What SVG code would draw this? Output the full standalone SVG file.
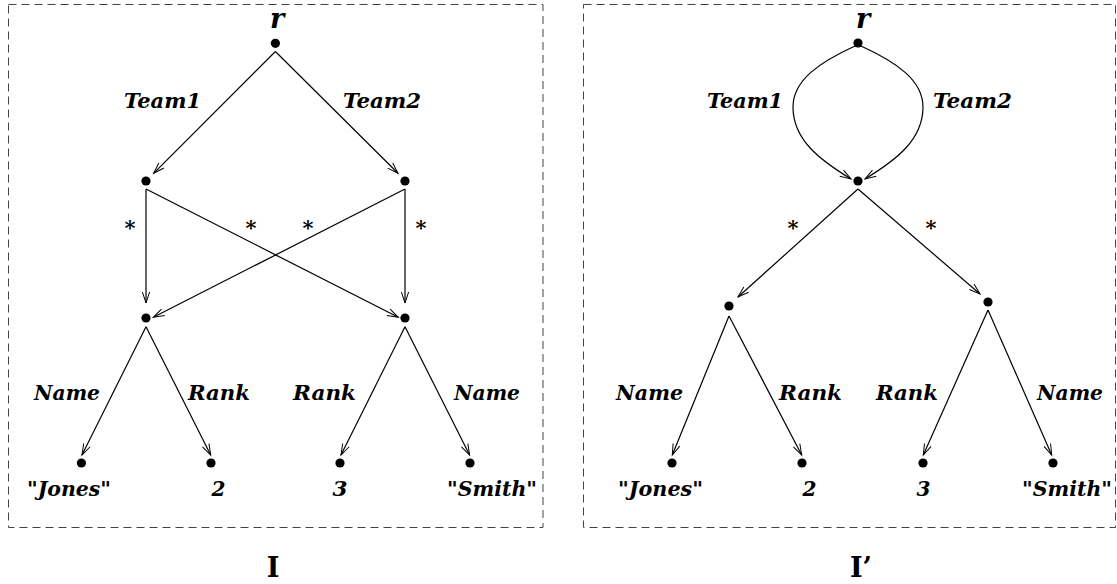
<svg xmlns="http://www.w3.org/2000/svg" width="1117" height="584" viewBox="0 0 1117 584">
  <style>
    .frame { fill: none; stroke: #444; stroke-width: 1; stroke-dasharray: 8 5; }
    .edge { fill: none; stroke: #000; stroke-width: 1.2; marker-end: url(#open); }
    .dot { fill: #000; }
    .lbl { font-family: "DejaVu Serif", "Liberation Serif", serif; font-weight: bold; font-style: italic; font-size: 21px; fill: #000; }
    .root { font-family: "DejaVu Serif", "Liberation Serif", serif; font-weight: bold; font-style: italic; font-size: 27px; fill: #000; }
    .star { font-family: "DejaVu Serif", "Liberation Serif", serif; font-weight: bold; font-size: 21px; fill: #000; text-anchor: middle; }
    .cap { font-family: "DejaVu Serif", "Liberation Serif", serif; font-weight: bold; font-size: 27px; fill: #000; text-anchor: middle; }
  </style>
  <defs>
    <marker id="open" markerUnits="userSpaceOnUse" markerWidth="14" markerHeight="10" refX="0" refY="0" viewBox="-12 -5 14 10" orient="auto" overflow="visible">
      <path d="M-11,-3.6 L0,0 L-11,3.6" fill="none" stroke="#000" stroke-width="1"/>
    </marker>
  </defs>

  <rect class="frame" x="8.5" y="4.5" width="534.5" height="523"/>
  <rect class="frame" x="583.5" y="4.5" width="532" height="523"/>

  <!-- left instance I -->
  <g id="edges-I">
    <path class="edge" d="M275.4,51.5 L153.6,173.3"/>
    <path class="edge" d="M275.4,51.5 L398,173.3"/>
    <path class="edge" d="M146,189 L146,303"/>
    <path class="edge" d="M146,189 L398.3,317.3"/>
    <path class="edge" d="M405,189 L153.3,317.3"/>
    <path class="edge" d="M405,189 L405,303"/>
    <path class="edge" d="M146,326.7 L82,455"/>
    <path class="edge" d="M146,326.7 L210.7,455"/>
    <path class="edge" d="M405,326.7 L341,455"/>
    <path class="edge" d="M405,326.7 L469.6,455"/>
    <text class="lbl" x="124" y="108" textLength="77" lengthAdjust="spacingAndGlyphs">Team1</text>
    <text class="lbl" x="343" y="108" textLength="78" lengthAdjust="spacingAndGlyphs">Team2</text>
    <text class="star" x="130" y="235">*</text>
    <text class="star" x="251" y="235">*</text>
    <text class="star" x="308" y="235">*</text>
    <text class="star" x="421" y="235">*</text>
    <text class="lbl" x="34" y="400" textLength="66" lengthAdjust="spacingAndGlyphs">Name</text>
    <text class="lbl" x="188" y="400" textLength="62" lengthAdjust="spacingAndGlyphs">Rank</text>
    <text class="lbl" x="293" y="400" textLength="63" lengthAdjust="spacingAndGlyphs">Rank</text>
    <text class="lbl" x="454" y="400" textLength="66" lengthAdjust="spacingAndGlyphs">Name</text>
  </g>
  <g id="I-root"><circle class="dot" cx="275.4" cy="43.3" r="4.6"/><text class="root" x="270" y="28">r</text></g>
  <g id="I-team1"><circle class="dot" cx="146" cy="181" r="4.6"/></g>
  <g id="I-team2"><circle class="dot" cx="405" cy="181" r="4.6"/></g>
  <g id="I-player1"><circle class="dot" cx="146" cy="318" r="4.6"/></g>
  <g id="I-player2"><circle class="dot" cx="405" cy="318" r="4.6"/></g>
  <g id="I-jones"><circle class="dot" cx="81.4" cy="463" r="4.6"/><text class="lbl" x="27" y="496" textLength="84" lengthAdjust="spacingAndGlyphs">"Jones"</text></g>
  <g id="I-rank2"><circle class="dot" cx="211" cy="463" r="4.6"/><text class="lbl" x="211.5" y="496" textLength="14" lengthAdjust="spacingAndGlyphs">2</text></g>
  <g id="I-rank3"><circle class="dot" cx="340" cy="463" r="4.6"/><text class="lbl" x="332.5" y="496" textLength="15" lengthAdjust="spacingAndGlyphs">3</text></g>
  <g id="I-smith"><circle class="dot" cx="470" cy="463" r="4.6"/><text class="lbl" x="447" y="496" textLength="90" lengthAdjust="spacingAndGlyphs">"Smith"</text></g>
  <text class="cap" x="273" y="577">I</text>

  <!-- right instance I' -->
  <g id="edges-I-prime">
    <path class="edge" d="M855,46 C820,62 793,80 793,107 C793,140 820,160 851,179"/>
    <path class="edge" d="M861,46 C896,62 923,80 923,107 C923,140 896,160 865,179"/>
    <path class="edge" d="M858,189 L738,297"/>
    <path class="edge" d="M858,189 L980,294"/>
    <path class="edge" d="M729,316 L672.3,455"/>
    <path class="edge" d="M729,316 L801.7,455"/>
    <path class="edge" d="M988,310 L923.3,455"/>
    <path class="edge" d="M988,310 L1051.7,455"/>
    <text class="lbl" x="707" y="108" textLength="76" lengthAdjust="spacingAndGlyphs">Team1</text>
    <text class="lbl" x="933" y="108" textLength="79" lengthAdjust="spacingAndGlyphs">Team2</text>
    <text class="star" x="793" y="235">*</text>
    <text class="star" x="931" y="235">*</text>
    <text class="lbl" x="616" y="400" textLength="67" lengthAdjust="spacingAndGlyphs">Name</text>
    <text class="lbl" x="779" y="400" textLength="63" lengthAdjust="spacingAndGlyphs">Rank</text>
    <text class="lbl" x="876" y="400" textLength="62" lengthAdjust="spacingAndGlyphs">Rank</text>
    <text class="lbl" x="1037" y="400" textLength="66" lengthAdjust="spacingAndGlyphs">Name</text>
  </g>
  <g id="Ip-root"><circle class="dot" cx="858" cy="43" r="4.6"/><text class="root" x="856" y="28">r</text></g>
  <g id="Ip-team"><circle class="dot" cx="858" cy="181" r="4.6"/></g>
  <g id="Ip-player1"><circle class="dot" cx="729" cy="306" r="4.6"/></g>
  <g id="Ip-player2"><circle class="dot" cx="988" cy="302" r="4.6"/></g>
  <g id="Ip-jones"><circle class="dot" cx="672" cy="463" r="4.6"/><text class="lbl" x="618" y="496" textLength="85" lengthAdjust="spacingAndGlyphs">"Jones"</text></g>
  <g id="Ip-rank2"><circle class="dot" cx="802" cy="463" r="4.6"/><text class="lbl" x="802.5" y="496" textLength="14" lengthAdjust="spacingAndGlyphs">2</text></g>
  <g id="Ip-rank3"><circle class="dot" cx="923" cy="463" r="4.6"/><text class="lbl" x="916.5" y="496" textLength="14" lengthAdjust="spacingAndGlyphs">3</text></g>
  <g id="Ip-smith"><circle class="dot" cx="1053" cy="463" r="4.6"/><text class="lbl" x="1022" y="496" textLength="90" lengthAdjust="spacingAndGlyphs">"Smith"</text></g>
  <text class="cap" x="861" y="577">I’</text>
</svg>
